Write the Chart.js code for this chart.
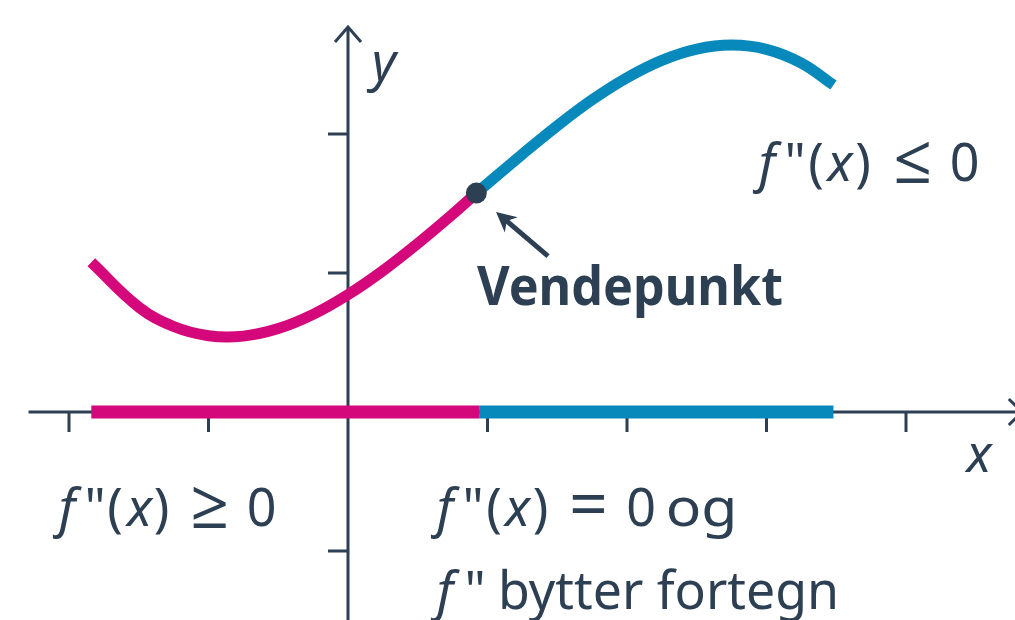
<!DOCTYPE html>
<html>
<head>
<meta charset="utf-8">
<script src="https://cdn.jsdelivr.net/npm/chart.js@4/dist/chart.umd.min.js"></script>
<style>
  html, body { margin: 0; padding: 0; background: #ffffff; }
  #wrap { width: 1015px; height: 620px; }
</style>
</head>
<body>
<div id="wrap"><canvas id="c" width="1015" height="620"></canvas></div>
<script>
// ---- data (axis units) ----
const convexX  = [-1.84, -1.5, -1.25, -1, -0.75, -0.5, -0.25, 0, 0.25, 0.5, 0.75, 0.92];
const convexY  = [1.077, 0.755, 0.615, 0.549, 0.546, 0.600, 0.702, 0.844, 1.016, 1.212, 1.423, 1.575];
const concaveX = [0.92, 1.25, 1.5, 1.75, 2, 2.25, 2.5, 2.75, 3, 3.25, 3.48];
const concaveY = [1.575, 1.855, 2.059, 2.246, 2.405, 2.530, 2.611, 2.640, 2.609, 2.510, 2.352];
const signPosX = [-1.84, 0.94];   // f''(x) >= 0 interval
const signNegX = [0.94, 3.48];    // f''(x) <= 0 interval
const inflectionPt = [0.92, 1.575];
const xTicks = [-2, -1, 1, 2, 3, 4];
const yTicks = [2, 1, -1];
const xAxisRange = [-2.29, 4.83];
const yAxisRange = [-1.5, 2.77];

const PINK = '#d4077b';
const BLUE = '#0889bb';
const INK  = '#2d3f53';
const FONT = '"Noto Sans", "Open Sans", sans-serif';

const pts = (xs, ys) => xs.map((x, i) => ({ x, y: ys[i] }));

const axesPlugin = {
  id: 'axes',
  beforeDatasetsDraw(chart) {
    const { ctx, scales: { x, y } } = chart;
    const X = v => x.getPixelForValue(v), Y = v => y.getPixelForValue(v);
    ctx.save();
    ctx.strokeStyle = INK;
    ctx.lineWidth = 3;
    ctx.lineCap = 'butt';
    ctx.beginPath();
    ctx.moveTo(X(xAxisRange[0]), Y(0));
    ctx.lineTo(X(xAxisRange[1]), Y(0));
    ctx.stroke();
    ctx.beginPath();
    ctx.moveTo(X(0), Y(yAxisRange[0]));
    ctx.lineTo(X(0), Y(yAxisRange[1]));
    ctx.stroke();
    ctx.lineJoin = 'miter';
    const xt = X(xAxisRange[1]), y0 = Y(0);
    ctx.beginPath();
    ctx.moveTo(xt - 13, y0 - 13); ctx.lineTo(xt, y0); ctx.lineTo(xt - 13, y0 + 13);
    ctx.stroke();
    const yt = Y(yAxisRange[1]), x0 = X(0);
    ctx.beginPath();
    ctx.moveTo(x0 - 13, yt + 15); ctx.lineTo(x0, yt); ctx.lineTo(x0 + 13, yt + 15);
    ctx.stroke();
    xTicks.forEach(t => {
      ctx.beginPath();
      ctx.moveTo(X(t), y0); ctx.lineTo(X(t), y0 + 20);
      ctx.stroke();
    });
    yTicks.forEach(t => {
      ctx.beginPath();
      ctx.moveTo(x0, Y(t)); ctx.lineTo(x0 - 20, Y(t));
      ctx.stroke();
    });
    ctx.restore();
  },
  afterDatasetsDraw(chart) {
    const { ctx, scales: { x, y } } = chart;
    const X = v => x.getPixelForValue(v), Y = v => y.getPixelForValue(v);
    ctx.save();
    ctx.fillStyle = INK;
    ctx.strokeStyle = INK;
    const tx = X(1.061), ty = Y(1.439), sx = X(1.434), sy = Y(1.122);
    const dx = tx - sx, dy = ty - sy, L = Math.hypot(dx, dy);
    const ux = dx / L, uy = dy / L, nx = -uy, ny = ux;
    ctx.lineWidth = 5;
    ctx.beginPath();
    ctx.moveTo(sx, sy);
    ctx.lineTo(tx - ux * 10, ty - uy * 10);
    ctx.stroke();
    ctx.beginPath();
    ctx.moveTo(tx, ty);
    ctx.lineTo(tx - ux * 20 + nx * 10, ty - uy * 20 + ny * 10);
    ctx.lineTo(tx - ux * 14, ty - uy * 14);
    ctx.lineTo(tx - ux * 20 - nx * 10, ty - uy * 20 - ny * 10);
    ctx.closePath();
    ctx.fill();

    ctx.textBaseline = 'alphabetic';
    const up = '52px ' + FONT, it = 'italic 52px ' + FONT, op = '68px ' + FONT;
    const piece = (t, cx, base, f) => { ctx.font = f; ctx.textAlign = 'center'; ctx.fillText(t, cx, base); };
    const fitted = (t, left, base, f, w) => {
      ctx.font = f; ctx.textAlign = 'left';
      const m = ctx.measureText(t);
      const ink = m.actualBoundingBoxRight + m.actualBoundingBoxLeft;
      const s = w / ink;
      ctx.save();
      ctx.translate(left, base);
      ctx.scale(s, 1);
      ctx.fillText(t, m.actualBoundingBoxLeft, 0);
      ctx.restore();
    };
    piece('y', 384, 80, it);
    piece('x', 979, 472, it);
    let b = 181;
    piece('f', 767, b, it); piece('"', 795, b, up); piece('(', 816, b, up);
    piece('x', 840, b, it); piece(')', 863, b, up); piece('\u2264', 913, b + 2, op); piece('0', 964.5, b, up);
    b = 526;
    piece('f', 67, b, it); piece('"', 95, b, up); piece('(', 115, b, up);
    piece('x', 139.5, b, it); piece(')', 161.5, b, up); piece('\u2265', 210, b + 2, op); piece('0', 261.5, b, up);
    piece('f', 445, b, it); piece('"', 473, b, up); piece('(', 494, b, up);
    piece('x', 517.5, b, it); piece(')', 540.5, b, up); piece('=', 588.5, b + 2, op); piece('0', 641, b, up);
    fitted('og', 668, b, up, 65);
    b = 609;
    piece('f', 445, b, it); piece('"', 475, b, up);
    fitted('bytter fortegn', 502, b, up, 333);
    fitted('Vendepunkt', 477, 305, 'bold 53px ' + FONT, 305);
    ctx.restore();
  }
};

new Chart(document.getElementById('c'), {
  type: 'scatter',
  data: {
    datasets: [
      { data: [{ x: inflectionPt[0], y: inflectionPt[1] }], pointRadius: 10.5,
        pointBackgroundColor: INK, pointBorderWidth: 0, showLine: false },
      { data: pts(convexX, convexY), showLine: true, borderColor: PINK, borderWidth: 11,
        tension: 0.4, pointRadius: 0, borderCapStyle: 'butt' },
      { data: pts(concaveX, concaveY), showLine: true, borderColor: BLUE, borderWidth: 11,
        tension: 0.4, pointRadius: 0, borderCapStyle: 'butt' },
      { data: signPosX.map(v => ({ x: v, y: 0 })), showLine: true, borderColor: PINK,
        borderWidth: 13, pointRadius: 0, borderCapStyle: 'butt' },
      { data: signNegX.map(v => ({ x: v, y: 0 })), showLine: true, borderColor: BLUE,
        borderWidth: 13, pointRadius: 0, borderCapStyle: 'butt' }
    ]
  },
  options: {
    responsive: false,
    devicePixelRatio: 1,
    animation: false,
    layout: { padding: 0, autoPadding: false },
    plugins: { legend: { display: false }, tooltip: { enabled: false } },
    scales: {
      x: { type: 'linear', display: false, min: -348 / 139.5, max: 667 / 139.5 },
      y: { type: 'linear', display: false, min: -208 / 139, max: 412 / 139 }
    }
  },
  plugins: [axesPlugin]
});
</script>
</body>
</html>
